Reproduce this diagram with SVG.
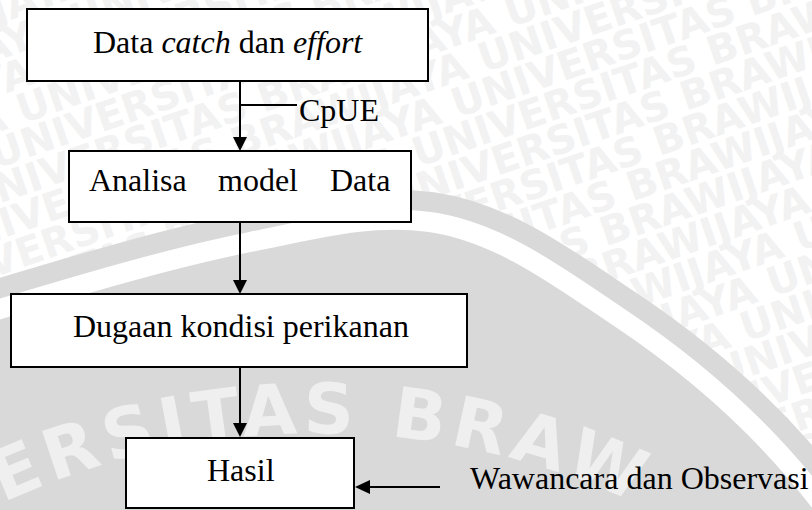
<svg xmlns="http://www.w3.org/2000/svg" xmlns:xlink="http://www.w3.org/1999/xlink" width="812" height="510" viewBox="0 0 812 510">
<style>
.wm{font-family:"DejaVu Sans",sans-serif;font-weight:bold;font-size:40px;fill:#f2f2f2}
.wm2{font-family:"DejaVu Sans",sans-serif;font-weight:bold;font-size:70px;fill:#efefef;letter-spacing:6px}
.box{fill:#fff;stroke:#000;stroke-width:2}
.lbl{font-family:"Liberation Serif","Times New Roman",serif;font-size:32px;fill:#000}
.ln{stroke:#000;stroke-width:2;fill:none}
.hd{fill:#000}
</style>
<defs>
<path id="arc" d="M -432,1184 A 751,751 0 0 1 1070,1184"/>
<path id="band" d="M-10,312 C80,285 170,258 250,242 C320,228 370,214 430,222 C500,232 560,278 620,318 C680,358 760,420 830,515"/>
</defs>
<rect width="812" height="510" fill="#fff"/>
<g id="watermark-rows" transform="rotate(-19 406 255)">
<text class="wm" x="-700" y="-300">UNIVERSITAS BRAWIJAYA UNIVERSITAS BRAWIJAYA UNIVERSITAS BRAWIJAYA UNIVERSITAS BRAWIJAYA</text>
<text class="wm" x="-740" y="-266">UNIVERSITAS BRAWIJAYA UNIVERSITAS BRAWIJAYA UNIVERSITAS BRAWIJAYA UNIVERSITAS BRAWIJAYA</text>
<text class="wm" x="-780" y="-232">UNIVERSITAS BRAWIJAYA UNIVERSITAS BRAWIJAYA UNIVERSITAS BRAWIJAYA UNIVERSITAS BRAWIJAYA</text>
<text class="wm" x="-820" y="-198">UNIVERSITAS BRAWIJAYA UNIVERSITAS BRAWIJAYA UNIVERSITAS BRAWIJAYA UNIVERSITAS BRAWIJAYA</text>
<text class="wm" x="-860" y="-164">UNIVERSITAS BRAWIJAYA UNIVERSITAS BRAWIJAYA UNIVERSITAS BRAWIJAYA UNIVERSITAS BRAWIJAYA</text>
<text class="wm" x="-900" y="-130">UNIVERSITAS BRAWIJAYA UNIVERSITAS BRAWIJAYA UNIVERSITAS BRAWIJAYA UNIVERSITAS BRAWIJAYA</text>
<text class="wm" x="-940" y="-96">UNIVERSITAS BRAWIJAYA UNIVERSITAS BRAWIJAYA UNIVERSITAS BRAWIJAYA UNIVERSITAS BRAWIJAYA</text>
<text class="wm" x="-980" y="-62">UNIVERSITAS BRAWIJAYA UNIVERSITAS BRAWIJAYA UNIVERSITAS BRAWIJAYA UNIVERSITAS BRAWIJAYA</text>
<text class="wm" x="-1020" y="-28">UNIVERSITAS BRAWIJAYA UNIVERSITAS BRAWIJAYA UNIVERSITAS BRAWIJAYA UNIVERSITAS BRAWIJAYA</text>
<text class="wm" x="-1060" y="6">UNIVERSITAS BRAWIJAYA UNIVERSITAS BRAWIJAYA UNIVERSITAS BRAWIJAYA UNIVERSITAS BRAWIJAYA</text>
<text class="wm" x="-1100" y="40">UNIVERSITAS BRAWIJAYA UNIVERSITAS BRAWIJAYA UNIVERSITAS BRAWIJAYA UNIVERSITAS BRAWIJAYA</text>
<text class="wm" x="-1140" y="74">UNIVERSITAS BRAWIJAYA UNIVERSITAS BRAWIJAYA UNIVERSITAS BRAWIJAYA UNIVERSITAS BRAWIJAYA</text>
<text class="wm" x="-1180" y="108">UNIVERSITAS BRAWIJAYA UNIVERSITAS BRAWIJAYA UNIVERSITAS BRAWIJAYA UNIVERSITAS BRAWIJAYA</text>
<text class="wm" x="-1220" y="142">UNIVERSITAS BRAWIJAYA UNIVERSITAS BRAWIJAYA UNIVERSITAS BRAWIJAYA UNIVERSITAS BRAWIJAYA</text>
<text class="wm" x="-700" y="176">UNIVERSITAS BRAWIJAYA UNIVERSITAS BRAWIJAYA UNIVERSITAS BRAWIJAYA UNIVERSITAS BRAWIJAYA</text>
<text class="wm" x="-740" y="210">UNIVERSITAS BRAWIJAYA UNIVERSITAS BRAWIJAYA UNIVERSITAS BRAWIJAYA UNIVERSITAS BRAWIJAYA</text>
<text class="wm" x="-780" y="244">UNIVERSITAS BRAWIJAYA UNIVERSITAS BRAWIJAYA UNIVERSITAS BRAWIJAYA UNIVERSITAS BRAWIJAYA</text>
<text class="wm" x="-820" y="278">UNIVERSITAS BRAWIJAYA UNIVERSITAS BRAWIJAYA UNIVERSITAS BRAWIJAYA UNIVERSITAS BRAWIJAYA</text>
<text class="wm" x="-860" y="312">UNIVERSITAS BRAWIJAYA UNIVERSITAS BRAWIJAYA UNIVERSITAS BRAWIJAYA UNIVERSITAS BRAWIJAYA</text>
<text class="wm" x="-900" y="346">UNIVERSITAS BRAWIJAYA UNIVERSITAS BRAWIJAYA UNIVERSITAS BRAWIJAYA UNIVERSITAS BRAWIJAYA</text>
<text class="wm" x="-940" y="380">UNIVERSITAS BRAWIJAYA UNIVERSITAS BRAWIJAYA UNIVERSITAS BRAWIJAYA UNIVERSITAS BRAWIJAYA</text>
<text class="wm" x="-980" y="414">UNIVERSITAS BRAWIJAYA UNIVERSITAS BRAWIJAYA UNIVERSITAS BRAWIJAYA UNIVERSITAS BRAWIJAYA</text>
<text class="wm" x="-1020" y="448">UNIVERSITAS BRAWIJAYA UNIVERSITAS BRAWIJAYA UNIVERSITAS BRAWIJAYA UNIVERSITAS BRAWIJAYA</text>
<text class="wm" x="-1060" y="482">UNIVERSITAS BRAWIJAYA UNIVERSITAS BRAWIJAYA UNIVERSITAS BRAWIJAYA UNIVERSITAS BRAWIJAYA</text>
<text class="wm" x="-1100" y="516">UNIVERSITAS BRAWIJAYA UNIVERSITAS BRAWIJAYA UNIVERSITAS BRAWIJAYA UNIVERSITAS BRAWIJAYA</text>
<text class="wm" x="-1140" y="550">UNIVERSITAS BRAWIJAYA UNIVERSITAS BRAWIJAYA UNIVERSITAS BRAWIJAYA UNIVERSITAS BRAWIJAYA</text>
<text class="wm" x="-1180" y="584">UNIVERSITAS BRAWIJAYA UNIVERSITAS BRAWIJAYA UNIVERSITAS BRAWIJAYA UNIVERSITAS BRAWIJAYA</text>
<text class="wm" x="-1220" y="618">UNIVERSITAS BRAWIJAYA UNIVERSITAS BRAWIJAYA UNIVERSITAS BRAWIJAYA UNIVERSITAS BRAWIJAYA</text>
</g>
<g id="seal">
<path d="M-10,312 C80,285 170,258 250,242 C320,228 370,214 430,222 C500,232 560,278 620,318 C680,358 760,420 830,515 L830,530 L-10,530 Z" fill="#d9d9d9"/>
<use xlink:href="#band" href="#band" fill="none" stroke="#d9d9d9" stroke-width="60"/>
<use xlink:href="#band" href="#band" fill="none" stroke="#ffffff" stroke-width="20"/>
<text class="wm2"><textPath xlink:href="#arc" href="#arc" startOffset="853">ERSITAS BRAW</textPath></text>
</g>
<g id="connectors">
<line class="ln" x1="240" y1="82" x2="240" y2="139"/>
<polygon class="hd" points="233,137 247,137 240,151"/>
<line class="ln" x1="240" y1="105" x2="297" y2="105"/>
<line class="ln" x1="240" y1="222" x2="240" y2="282"/>
<polygon class="hd" points="233,280 247,280 240,294"/>
<line class="ln" x1="240" y1="367" x2="240" y2="425"/>
<polygon class="hd" points="233,423 247,423 240,437"/>
<line class="ln" x1="440" y1="487" x2="368" y2="487"/>
<polygon class="hd" points="370,480 370,494 355,487"/>
<text class="lbl" x="299" y="121">CpUE</text>
<text class="lbl" x="470" y="489">Wawancara dan Observasi</text>
</g>
<g id="node-data">
<rect class="box" x="27" y="9" width="401" height="72"/>
<text class="lbl" x="93" y="53">Data <tspan font-style="italic">catch</tspan> dan <tspan font-style="italic">effort</tspan></text>
</g>
<g id="node-analisa">
<rect class="box" x="69" y="151" width="342" height="71"/>
<text class="lbl" y="191"><tspan x="89">Analisa</tspan><tspan x="218">model</tspan><tspan x="330">Data</tspan></text>
</g>
<g id="node-dugaan">
<rect class="box" x="11" y="294" width="456" height="73"/>
<text class="lbl" x="73" y="337">Dugaan kondisi perikanan</text>
</g>
<g id="node-hasil">
<rect class="box" x="126" y="438" width="228" height="70"/>
<text class="lbl" x="207" y="481">Hasil</text>
</g>
</svg>
